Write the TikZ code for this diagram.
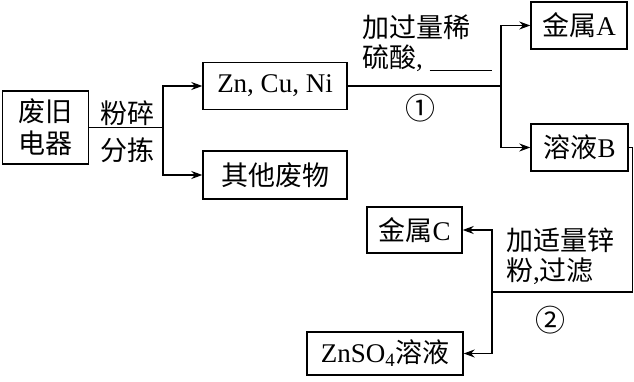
\documentclass[tikz,border=0pt]{standalone}
\usepackage{fontspec}
\setmainfont{Liberation Serif}
\newfontfamily\cjk{Noto Sans CJK SC}
\usetikzlibrary{arrows.meta, positioning}
\tikzset{
  box/.style={rectangle, draw, line width=1.4pt, inner sep=0pt,
    align=center, font=\fontsize{27}{32}\selectfont},
  note/.style={align=left, inner sep=0pt, font=\fontsize{27}{30}\selectfont},
  flow/.style={line width=1.2pt},
  arrow/.style={-{Stealth[length=11pt,width=8pt]}, line width=1.2pt}
}

\begin{document}
\begin{tikzpicture}[x=1pt, y=-1pt]
  \useasboundingbox (0,0) rectangle (634,382);

  % Boxes
  \node[box, minimum width=86pt, minimum height=73pt] (waste) at (45.5,127.5) {\cjk 废旧\\\cjk 电器};
  \node[box, minimum width=144pt, minimum height=47pt] (metals) at (275,86) {Zn, Cu, Ni};
  \node[box, minimum width=144pt, minimum height=48pt] (other) at (275,175) {\cjk 其他废物};
  \node[box, minimum width=96pt, minimum height=47pt] (metalA) at (579,25.5) {{\cjk 金属}A};
  \node[box, minimum width=97pt, minimum height=47pt] (solB) at (579.5,147.5) {{\cjk 溶液}B};
  \node[box, minimum width=95pt, minimum height=46pt] (metalC) at (414.5,230) {{\cjk 金属}C};
  \node[box, minimum width=156pt, minimum height=43pt] (znso4) at (385,353.5) {ZnSO\textsubscript{4}{\cjk 溶液}};

  % Labels
  \node[note] (crush) at (127,113) {\cjk 粉碎};
  \node[note] (sort) at (127,150) {\cjk 分拣};
  \node[note, anchor=north west] (acid) at (362,15) {\cjk 加过量稀\\{\cjk 硫酸}, \rule[-3pt]{62pt}{0.8pt}};
  \node[font=\fontsize{30}{30}\selectfont\cjk, inner sep=0pt] (one) at (420,108) {①};
  \node[note, anchor=north west] (zinc) at (506,228) {\cjk 加适量锌\\{\cjk 粉},{\cjk 过滤}};
  \node[font=\fontsize{30}{30}\selectfont\cjk, inner sep=0pt] (two) at (550,320) {②};

  % Branch points
  \coordinate (s1) at (163,127.5);
  \coordinate (s2) at (501,86);
  \coordinate (s3) at (492,292);

  % Connections
  \draw[flow] (waste.east) -- (s1);
  \draw[arrow] (s1) |- (metals);
  \draw[arrow] (s1) |- (other);
  \draw[flow] (metals.east) -- (s2);
  \draw[arrow] (s2) |- (metalA);
  \draw[arrow] (s2) |- (solB);
  \draw[flow] (solB.east) -- ++(4,0) |- (s3);
  \draw[arrow] (s3) |- (metalC);
  \draw[arrow] (s3) |- (znso4);

\end{tikzpicture}
\end{document}
